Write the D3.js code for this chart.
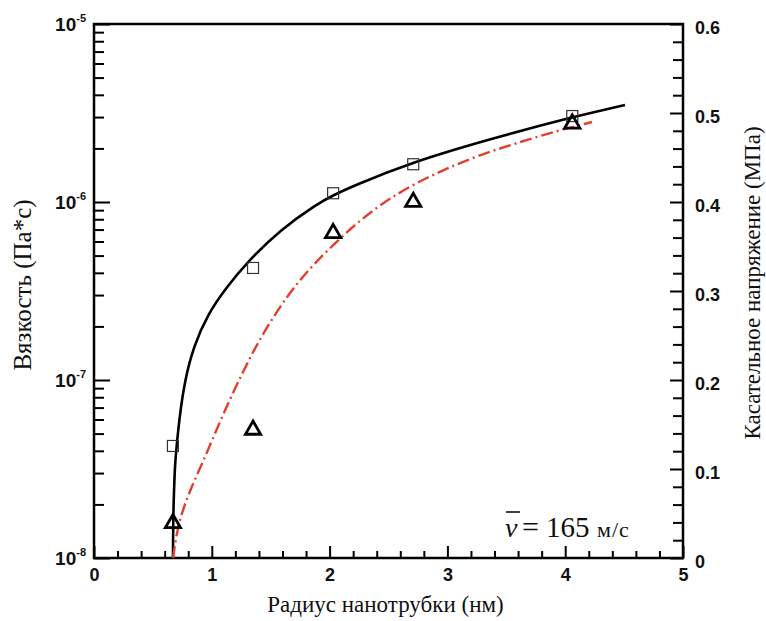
<!DOCTYPE html>
<html>
<head>
<meta charset="utf-8">
<script src="https://cdn.jsdelivr.net/npm/d3@7"></script>
<style>
  body { margin: 0; background: #fff; }
  svg { display: block; }
  .serif { font-family: "Liberation Serif", "DejaVu Serif", "Times New Roman", serif; }
  .sans  { font-family: "Liberation Sans", "DejaVu Sans", sans-serif; font-weight: bold; }
</style>
</head>
<body>
<svg id="chart" width="766" height="621"></svg>
<script>
// Measured points: nanotube radius (nm), viscosity (Pa*s), shear stress (MPa)
const radius = [0.67, 1.35, 2.03, 2.71, 4.06];
const viscosityPoints = [4.26e-8, 4.26e-7, 1.12e-6, 1.63e-6, 3.04e-6];
const stressPoints = [0.039, 0.144, 0.365, 0.400, 0.488];

// Viscosity fit curve (solid black, left log axis)
const viscFitRadius = [0.6706, 0.6710, 0.6723, 0.6791, 0.6876, 0.7003, 0.7301, 0.7725, 0.8429, 0.9703, 1.1265, 1.3014, 1.5789, 1.8930, 2.0289, 2.1986, 2.6825, 3.3616, 4.0662, 4.5076];
const viscFitValues = [1.0e-8, 1.2e-8, 1.635e-8, 2.41e-8, 3.33e-8, 4.20e-8, 6.53e-8, 1.0e-7, 1.53e-7, 2.38e-7, 3.33e-7, 4.60e-7, 6.97e-7, 9.75e-7, 1.09e-6, 1.23e-6, 1.66e-6, 2.26e-6, 3.01e-6, 3.51e-6];

// Shear stress fit curve (red dash-dot, right linear axis)
const stressFitRadius = [0.6706, 0.6961, 0.7301, 0.8149, 0.9253, 1.0951, 1.2649, 1.4346, 1.6384, 1.8336, 2.0289, 2.2581, 2.5127, 2.7929, 3.2173, 3.6418, 3.9304, 4.2275];
const stressFitValues = [0.0, 0.0225, 0.0449, 0.0764, 0.1079, 0.1615, 0.2098, 0.2528, 0.2944, 0.3259, 0.3517, 0.3798, 0.4045, 0.4258, 0.4506, 0.4685, 0.4798, 0.4899];

// Axis ticks
const xTicks = [0, 1, 2, 3, 4, 5];
const leftTicks = [1e-8, 1e-7, 1e-6, 1e-5];
const leftExponents = ["-8", "-7", "-6", "-5"];
const rightTicks = [0, 0.1, 0.2, 0.3, 0.4, 0.5, 0.6];
const rightTickLabels = ["0", "0.1", "0.2", "0.3", "0.4", "0.5", "0.6"];

const m = { left: 94, top: 24, right: 683, bottom: 558 };

const svg = d3.select("#chart");

const x = d3.scaleLinear().domain([0, 5]).range([m.left, m.right]);
const yL = d3.scaleLog().domain([1e-8, 1e-5]).range([m.bottom, m.top]);
const yR = d3.scaleLinear().domain([0, 0.6]).range([m.bottom, m.top]);

// Minor tick positions
const xMinor = d3.range(0, 5.0001, 0.2).filter(v => Math.abs(v - Math.round(v)) > 1e-6);
const leftMinor = [];
[-8, -7, -6].forEach(e => { for (let k = 2; k <= 9; k++) leftMinor.push(k * Math.pow(10, e)); });
const rightMinor = d3.range(0, 0.6001, 0.02).filter(v => Math.abs(v * 10 - Math.round(v * 10)) > 1e-6);

function styleAxis(g) {
  g.attr("font-family", null).attr("font-size", null);
  g.select(".domain").remove();
  g.selectAll(".tick line").attr("stroke", "#000").attr("stroke-width", 2);
  g.selectAll(".tick text")
    .attr("class", "sans")
    .attr("font-size", 18)
    .attr("fill", "#111");
}

// Bottom axis
svg.append("g")
  .attr("transform", `translate(0,${m.bottom})`)
  .call(d3.axisBottom(x).tickValues(xMinor).tickSize(-7).tickFormat(""))
  .call(styleAxis);
svg.append("g")
  .attr("transform", `translate(0,${m.bottom})`)
  .call(d3.axisBottom(x).tickValues(xTicks).tickSize(-12).tickPadding(10).tickFormat(d3.format("d")))
  .call(styleAxis);

// Left log axis
svg.append("g")
  .attr("transform", `translate(${m.left},0)`)
  .call(d3.axisLeft(yL).tickValues(leftMinor).tickSize(-10).tickFormat(""))
  .call(styleAxis);
const leftAxis = svg.append("g")
  .attr("transform", `translate(${m.left},0)`)
  .call(d3.axisLeft(yL).tickValues(leftTicks).tickSize(-16).tickPadding(9).tickFormat(""))
  .call(styleAxis);
leftAxis.selectAll(".tick text").each(function (d) {
  const t = d3.select(this);
  t.text(null).attr("x", -8).attr("dy", "0.36em").attr("font-size", 19);
  t.append("tspan").text("10");
  t.append("tspan").attr("font-size", 11).attr("dy", "-0.85em").text(leftExponents[leftTicks.indexOf(d)]);
});

// Right linear axis
svg.append("g")
  .attr("transform", `translate(${m.right},0)`)
  .call(d3.axisRight(yR).tickValues(rightMinor).tickSize(-10).tickFormat(""))
  .call(styleAxis);
svg.append("g")
  .attr("transform", `translate(${m.right},0)`)
  .call(d3.axisRight(yR).tickValues(rightTicks).tickSize(-13).tickPadding(12)
    .tickFormat((d, i) => rightTickLabels[i]))
  .call(styleAxis)
  .call(g => g.selectAll(".tick text").attr("dy", "0.5em"));

// Plot frame
svg.append("rect")
  .attr("x", m.left).attr("y", m.top)
  .attr("width", m.right - m.left).attr("height", m.bottom - m.top)
  .attr("fill", "none").attr("stroke", "#000").attr("stroke-width", 2.5);

// Curves (B-spline through the sampled fit points)
const viscLine = d3.line()
  .x((d, i) => x(viscFitRadius[i]))
  .y(d => yL(d))
  .curve(d3.curveBasis);
svg.append("path")
  .attr("d", viscLine(viscFitValues))
  .attr("fill", "none").attr("stroke", "#000").attr("stroke-width", 2.6);

const stressLine = d3.line()
  .x((d, i) => x(stressFitRadius[i]))
  .y(d => yR(d))
  .curve(d3.curveBasis);
svg.append("path")
  .attr("d", stressLine(stressFitValues))
  .attr("fill", "none").attr("stroke", "#e2402f").attr("stroke-width", 2.4)
  .attr("stroke-dasharray", "12,4,2,4");

// Square markers: viscosity
const sq = 11;
svg.append("g").selectAll("rect")
  .data(viscosityPoints)
  .join("rect")
  .attr("x", (d, i) => x(radius[i]) - sq / 2)
  .attr("y", d => yL(d) - sq / 2)
  .attr("width", sq).attr("height", sq)
  .attr("fill", "none").attr("stroke", "#333").attr("stroke-width", 1.2);

// Triangle markers: shear stress
const tri = d3.symbol().type(d3.symbolTriangle).size(100);
svg.append("g").selectAll("path")
  .data(stressPoints)
  .join("path")
  .attr("transform", (d, i) => `translate(${x(radius[i])},${yR(d)})`)
  .attr("d", tri)
  .attr("fill", "none").attr("stroke", "#000").attr("stroke-width", 2.8)
  .attr("stroke-linejoin", "miter");

// Axis titles
svg.append("text")
  .attr("class", "serif")
  .attr("transform", "translate(31,285) rotate(-90)")
  .attr("text-anchor", "middle")
  .attr("font-size", 25).attr("fill", "#111")
  .text("Вязкость (Па*с)");

svg.append("text")
  .attr("class", "serif")
  .attr("transform", "translate(760,283) rotate(-90)")
  .attr("text-anchor", "middle")
  .attr("font-size", 23).attr("fill", "#111")
  .text("Касательное напряжение (МПа)");

svg.append("text")
  .attr("class", "serif")
  .attr("x", (m.left + m.right) / 2 - 3).attr("y", 612)
  .attr("text-anchor", "middle")
  .attr("font-size", 23).attr("fill", "#111")
  .text("Радиус нанотрубки (нм)");

// Velocity annotation
const note = svg.append("g").attr("class", "serif").attr("fill", "#111");
note.append("text").attr("x", 505).attr("y", 537).attr("font-size", 28)
  .attr("font-style", "italic").text("v");
note.append("line")
  .attr("x1", 506).attr("x2", 520).attr("y1", 512).attr("y2", 512)
  .attr("stroke", "#111").attr("stroke-width", 1.6);
note.append("text").attr("x", 522).attr("y", 537).attr("font-size", 30).text("=");
note.append("text").attr("x", 546).attr("y", 537).attr("font-size", 29).text("165");
note.append("text").attr("x", 597).attr("y", 537).attr("font-size", 22)
  .attr("letter-spacing", 1).text("м/с");
</script>
</body>
</html>
